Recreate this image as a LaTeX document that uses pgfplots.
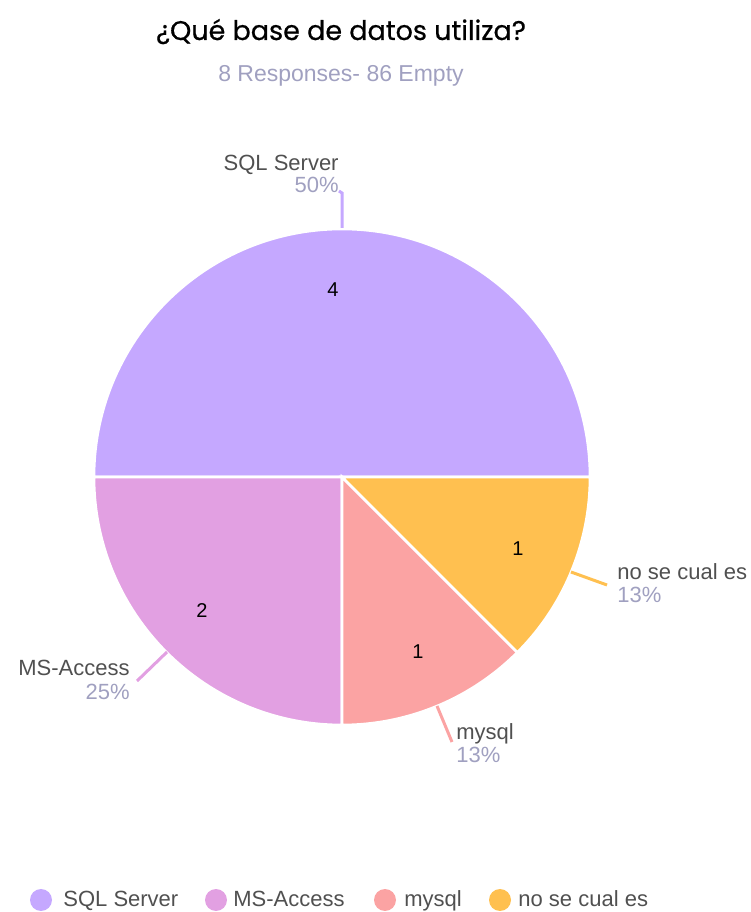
\documentclass[border=0pt]{standalone}
\usepackage{pgfplots}
\pgfplotsset{compat=1.18}
\usepackage{pgfplotstable}
\usepackage{fontspec}
\setmainfont{Liberation Sans}
\newfontfamily\titlefont[FakeBold=0.6]{Poppins}
\definecolor{cSQL}{RGB}{197,168,255}
\definecolor{cAccess}{RGB}{226,160,226}
\definecolor{cMysql}{RGB}{251,163,163}
\definecolor{cNose}{RGB}{255,192,80}
\definecolor{labelgray}{RGB}{80,80,80}
\definecolor{pctgray}{RGB}{160,160,192}

\pgfplotstableread{
label count
SQLServer 4
MSAccess 2
mysql 1
nose 1
}\piedata

% angles of the slices, from the counts
\pgfplotstablegetelem{0}{count}\of\piedata \let\cA\pgfplotsretval
\pgfplotstablegetelem{1}{count}\of\piedata \let\cB\pgfplotsretval
\pgfplotstablegetelem{2}{count}\of\piedata \let\cC\pgfplotsretval
\pgfplotstablegetelem{3}{count}\of\piedata \let\cD\pgfplotsretval
\pgfmathsetmacro\tot{\cA+\cB+\cC+\cD}
\pgfmathsetmacro\aA{0}
\pgfmathsetmacro\aB{\aA+360*\cA/\tot}
\pgfmathsetmacro\aC{\aB+360*\cB/\tot}
\pgfmathsetmacro\aD{\aC+360*\cC/\tot}
\pgfmathsetmacro\aE{\aD+360*\cD/\tot}
\def\cx{342}\def\cy{435}\def\R{248}

\begin{document}
\begin{tikzpicture}
\begin{axis}[
  width=375.5pt, height=456pt, scale only axis,
  xmin=0, xmax=751, ymin=0, ymax=912,
  enlargelimits=false, hide axis, clip=false,
]
\addplot[draw=none] coordinates {(0,0) (751,912)};

% slices
\fill[cSQL, draw=white, line width=1.3pt] (axis cs:\cx,\cy) -- (axis cs:{\cx+\R*cos(\aA)},{\cy+\R*sin(\aA)}) arc[start angle=\aA, end angle=\aB, radius=124pt] -- cycle;
\fill[cAccess, draw=white, line width=1.3pt] (axis cs:\cx,\cy) -- (axis cs:{\cx+\R*cos(\aB)},{\cy+\R*sin(\aB)}) arc[start angle=\aB, end angle=\aC, radius=124pt] -- cycle;
\fill[cMysql, draw=white, line width=1.3pt] (axis cs:\cx,\cy) -- (axis cs:{\cx+\R*cos(\aC)},{\cy+\R*sin(\aC)}) arc[start angle=\aC, end angle=\aD, radius=124pt] -- cycle;
\fill[cNose, draw=white, line width=1.3pt] (axis cs:\cx,\cy) -- (axis cs:{\cx+\R*cos(\aD)},{\cy+\R*sin(\aD)}) arc[start angle=\aD, end angle=\aE, radius=124pt] -- cycle;

% counts inside
\node[font=\fontsize{10}{11}\selectfont] at (axis cs:333,622) {4};
\node[font=\fontsize{10}{11}\selectfont] at (axis cs:202,301) {2};
\node[font=\fontsize{10}{11}\selectfont] at (axis cs:418,260) {1};
\node[font=\fontsize{10}{11}\selectfont] at (axis cs:518,363) {1};

% leader lines
\draw[cSQL, line width=1.5pt] (axis cs:342,684) -- (axis cs:342,719) -- (axis cs:339,721);
\draw[cAccess, line width=1.5pt] (axis cs:167,260) -- (axis cs:137,231);
\draw[cMysql, line width=1.5pt] (axis cs:437,206) -- (axis cs:452,170);
\draw[cNose, line width=1.5pt] (axis cs:571,340) -- (axis cs:607,327);

% outer labels
\begin{scope}[every node/.style={inner sep=0pt, font=\fontsize{11}{13}\selectfont}]
\node[anchor=base east, text=labelgray] at (axis cs:339,741) {SQL Server};
\node[anchor=base east, text=pctgray] at (axis cs:339,719) {50\%};
\node[anchor=base east, text=labelgray] at (axis cs:130,236) {MS-Access};
\node[anchor=base east, text=pctgray] at (axis cs:130,212) {25\%};
\node[anchor=base west, text=labelgray] at (axis cs:456,172) {mysql};
\node[anchor=base west, text=pctgray] at (axis cs:456,149) {13\%};
\node[anchor=base west, text=labelgray] at (axis cs:617,332) {no se cual es};
\node[anchor=base west, text=pctgray] at (axis cs:617,309) {13\%};

% legend
\fill[cSQL] (axis cs:41,12) circle[radius=5.5pt];
\node[anchor=base west, text=labelgray] at (axis cs:63,5) {SQL Server};
\fill[cAccess] (axis cs:216,12) circle[radius=5.5pt];
\node[anchor=base west, text=labelgray] at (axis cs:233,5) {MS-Access};
\fill[cMysql] (axis cs:385,12) circle[radius=5.5pt];
\node[anchor=base west, text=labelgray] at (axis cs:404,5) {mysql};
\fill[cNose] (axis cs:500,12) circle[radius=5.5pt];
\node[anchor=base west, text=labelgray] at (axis cs:518,5) {no se cual es};
\end{scope}

% titles
\node[anchor=base, inner sep=0pt, font=\titlefont\fontsize{13.5}{15}\selectfont] at (axis cs:341,872) {¿Qué base de datos utiliza?};
\node[anchor=base, inner sep=0pt, text=pctgray, font=\fontsize{11.5}{13}\selectfont] at (axis cs:341,830) {8 Responses- 86 Empty};
\end{axis}
\end{tikzpicture}
\end{document}
